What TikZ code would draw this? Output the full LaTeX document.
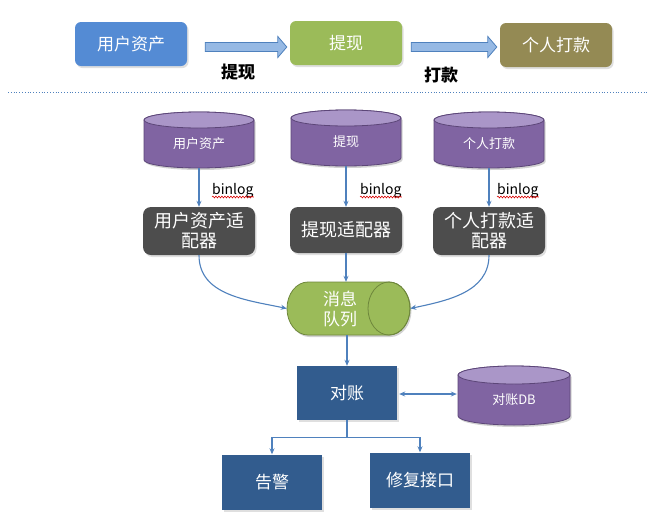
\documentclass[tikz,border=0pt]{standalone}
\usepackage{fontspec}
\setmainfont{Noto Sans CJK SC}
\usetikzlibrary{shadows,arrows.meta,decorations.pathmorphing,calc}
\definecolor{topblue}{RGB}{84,139,212}
\definecolor{topgreen}{RGB}{155,187,89}
\definecolor{topolive}{RGB}{148,138,84}
\definecolor{bafill}{RGB}{150,185,228}
\definecolor{baline}{RGB}{79,129,189}
\definecolor{lineblue}{RGB}{79,129,189}
\definecolor{cylbody}{RGB}{128,100,162}
\definecolor{cyltop}{RGB}{170,150,200}
\definecolor{cylline}{RGB}{92,70,120}
\definecolor{adgray}{RGB}{77,77,77}
\definecolor{dzblue}{RGB}{50,92,142}
\definecolor{mqline}{RGB}{110,135,60}
\tikzset{
  shad/.style={drop shadow={opacity=0.25,shadow xshift=1.5pt,shadow yshift=-2pt}},
  topbox/.style={rounded corners=6pt,minimum width=112pt,minimum height=44pt,text=white,
    font=\fontsize{17}{20}\selectfont,inner sep=0pt,shad},
  adapt/.style={fill=adgray,rounded corners=8pt,minimum width=112pt,minimum height=48pt,text=white,
    font=\fontsize{18}{20}\selectfont,align=center,inner sep=0pt,shad},
  bluebox/.style={fill=dzblue,minimum width=100pt,minimum height=54pt,text=white,
    font=\fontsize{17}{20}\selectfont,inner sep=0pt,shad},
  lbl/.style={font=\fontsize{17}{20}\selectfont\bfseries,text=black},
  cyltext/.style={font=\fontsize{13}{15}\selectfont,text=white,inner sep=0pt},
  binlabel/.style={font=\fontsize{14}{16}\selectfont,text=black,inner sep=0pt,anchor=base west},
  wavy/.style={draw=red!85!black,line width=0.6pt,decorate,decoration={snake,amplitude=0.9pt,segment length=3pt}},
  conn/.style={draw=lineblue,line width=1.1pt},
  arr/.style={conn,-{Stealth[length=6pt,width=5pt]}},
  darr/.style={conn,{Stealth[length=6pt,width=5pt]}-{Stealth[length=6pt,width=5pt]}},
  blockarr/.style={fill=bafill,draw=baline,line width=0.8pt,line join=miter},
}
\newcommand\dbcyl[7]{% name, cx, top, bottom, halfwidth, ry, text
  \fill[black,opacity=0.18] (#2-#5+1.5,-#3-#6-2) -- (#2-#5+1.5,-#4+#6-2)
    arc[start angle=180,end angle=360,x radius=#5,y radius=#6] -- (#2+#5+1.5,-#3-#6-2)
    arc[start angle=0,end angle=180,x radius=#5,y radius=#6] -- cycle;
  \filldraw[fill=cylbody,draw=cylline,line width=0.8pt] (#2-#5,-#3-#6) -- (#2-#5,-#4+#6)
    arc[start angle=180,end angle=360,x radius=#5,y radius=#6] -- (#2+#5,-#3-#6)
    arc[start angle=0,end angle=180,x radius=#5,y radius=#6] -- cycle;
  \filldraw[fill=cyltop,draw=cylline,line width=0.8pt] (#2,-#3-#6) ellipse[x radius=#5,y radius=#6];
  \node[minimum width=2*#5,minimum height=#4-#3,inner sep=0pt] (#1) at (#2,{-(#3+#4)/2}) {};
  \node[cyltext] (#1t) at (#2,{-(#3+#4)/2-#6/2}) {#7};
}
\newcommand\blockarrow[2]{%
  \draw[blockarr] let \p1=(#1), \p2=(#2) in
    (\x1,\y1+4.5pt) -- (\x2-9pt,\y1+4.5pt) -- (\x2-9pt,\y1+10.5pt) -- (\x2,\y1)
    -- (\x2-9pt,\y1-10.5pt) -- (\x2-9pt,\y1-4.5pt) -- (\x1,\y1-4.5pt) -- cycle;
}
\begin{document}
\begin{tikzpicture}[x=1pt,y=1pt]
\useasboundingbox[fill=white] (0,0) rectangle (650,-517);

% top row
\node[topbox,fill=topblue]  (u1) at (131,-44) {用户资产};
\node[topbox,fill=topgreen] (t1) at (346,-43) {提现};
\node[topbox,fill=topolive] (p1) at (556,-45) {个人打款};
\coordinate (ba1s) at ($(u1.east)+(18,-3)$);
\coordinate (ba1e) at ($(t1.west)+(-3,-4)$);
\coordinate (ba2s) at ($(t1.east)+(9,-4)$);
\coordinate (ba2e) at ($(p1.west)+(-3,-2)$);
\blockarrow{ba1s}{ba1e}
\blockarrow{ba2s}{ba2e}
\node[lbl] (l1) at (238,-72) {提现};
\node[lbl] (l2) at (441,-75) {打款};

% dotted separator
\coordinate (dl) at (8,-92);
\coordinate (dr) at (648,-92);
\draw[lineblue,line width=0.8pt,dotted] (dl) -- (dr);

% source databases
\dbcyl{c1}{199}{112}{168}{55}{8}{用户资产}
\dbcyl{c2}{346}{110}{166}{55}{8}{提现}
\dbcyl{c3}{489}{112}{168}{55}{8}{个人打款}

% adapters
\node[adapt] (a1) at (199,-231) {用户资产适\\配器};
\node[adapt,minimum height=46pt] (a2) at (346,-230) {提现适配器};
\node[adapt] (a3) at (489,-231) {个人打款适\\配器};

\draw[arr] (c1.south) -- (a1.north);
\draw[arr] (c2.south) -- (a2.north);
\draw[arr] (c3.south) -- (a3.north);

\node[binlabel] (b1) at (212,-194) {binlog};
\node[binlabel] (b2) at (360,-194) {binlog};
\node[binlabel] (b3) at (497,-194) {binlog};
\draw[wavy] ($(b1.base west)+(0,-3)$) -- ($(b1.base east)+(0,-3)$);
\draw[wavy] ($(b2.base west)+(0,-3)$) -- ($(b2.base east)+(0,-3)$);
\draw[wavy] ($(b3.base west)+(0,-3)$) -- ($(b3.base east)+(0,-3)$);

% message queue (horizontal cylinder)
\fill[black,opacity=0.18] (308+1.5,-282-2) -- (389+1.5,-282-2) arc[start angle=90,end angle=-90,x radius=21,y radius=26.5]
   -- (308+1.5,-335-2) arc[start angle=270,end angle=90,x radius=21,y radius=26.5] -- cycle;
\filldraw[fill=topgreen,draw=mqline,line width=0.8pt] (308,-282) -- (389,-282)
   arc[start angle=90,end angle=-90,x radius=21,y radius=26.5]
   -- (308,-335) arc[start angle=270,end angle=90,x radius=21,y radius=26.5] -- cycle;
\draw[mqline,line width=0.8pt] (389,-308.5) ellipse[x radius=21,y radius=26.5];
\node[minimum width=123pt,minimum height=53pt,inner sep=0pt] (mq) at (348.5,-308.5) {};
\node[font=\fontsize{17}{20}\selectfont,text=white,align=center,inner sep=0pt] (mqt) at (340,-308.5) {消息\\队列};

\draw[arr] (a1.south) to[out=-90,in=168] (mq.west);
\draw[arr] (a2.south) -- (a2.south |- mq.north);
\draw[arr] (a3.south) to[out=-90,in=12] (mq.east);

% reconciliation
\node[bluebox] (dz) at (347,-393) {对账};
\draw[arr] (mq.south -| dz.north) -- (dz.north);
\dbcyl{db}{514}{366}{425}{56}{9}{对账DB}
\draw[darr] ($(dz.east)+(2,-1)$) -- ($(dz.east -| db.west)+(-1,-1)$);

\node[bluebox,minimum height=55pt] (gj) at (272,-482) {告警};
\node[bluebox,minimum height=55pt] (xf) at (420,-480) {修复接口};
\coordinate (br) at ($(dz.south)+(0,-17)$);
\draw[conn] (dz.south) -- (br);
\draw[arr] (br) -| (gj.north);
\draw[arr] (br) -| (xf.north);
\end{tikzpicture}
\end{document}
